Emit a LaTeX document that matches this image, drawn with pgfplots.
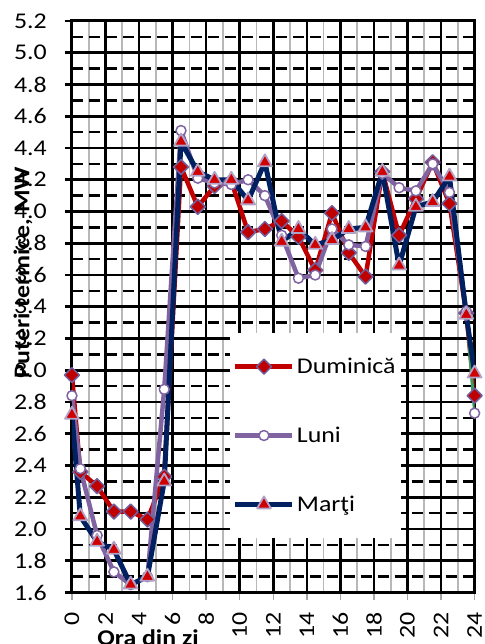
\documentclass[border=0pt]{standalone}
\usepackage{fontspec}
\setmainfont{Carlito}[FakeStretch=1.15]
\usepackage{pgfplots}
\pgfplotsset{compat=1.18}
\definecolor{cDum}{HTML}{C00000}
\definecolor{cLun}{HTML}{8064A2}
\definecolor{cMar}{HTML}{002060}
\definecolor{cEdge}{HTML}{7060A0}
\definecolor{cTri}{HTML}{D00000}
\definecolor{cTriEdge}{HTML}{B3A2C7}
\definecolor{cGreen}{HTML}{3A9A5C}
\newcommand\f{\fontsize{22.5bp}{26bp}\selectfont}
\begin{document}
\begin{tikzpicture}
\begin{axis}[
  scale only axis, width=403bp, height=572bp,
  xmin=0, xmax=24, ymin=1.6, ymax=5.2,
  xtick={0,2,...,24}, minor xtick={1,3,...,23},
  ytick={1.6,1.8,2.0,2.2,2.4,2.6,2.8,3.0,3.2,3.4,3.6,3.8,4.0,4.2,4.4,4.6,4.8,5.0,5.2},
  minor ytick={1.7,1.9,2.1,2.3,2.5,2.7,2.9,3.1,3.3,3.5,3.7,3.9,4.1,4.3,4.5,4.7,4.9,5.1},
  grid=both,
  major grid style={black, line width=2.6bp},
  minor x grid style={black!28, line width=1.6bp},
  minor y grid style={black, line width=2.6bp, dash pattern=on 11bp off 6bp},
  axis line style={black, line width=3bp},
  tick align=outside, tick pos=left,
  major tick length=7bp, minor tick length=0pt,
  xtick style={black!35, line width=1.5bp},
  ytick style={black, line width=2.6bp},
  /pgf/number format/assume math mode=true,
  ticklabel style={font=\f},
  xticklabel style={rotate=90, anchor=east, inner sep=0pt},
  xticklabel shift=13bp,
  yticklabel style={anchor=east, inner sep=0pt, /pgf/number format/.cd, fixed, fixed zerofill, precision=1},
  yticklabel shift=18bp,
  xlabel={\textbf{Ora din zi}},
  xlabel style={font=\f, at={(axis description cs:0.189,-0.0927)}, anchor=base, inner sep=0pt},
  ylabel={\textbf{Puteri termice, MW}},
  ylabel style={font=\f, at={(axis description cs:-0.1216,0.560)}, anchor=center, inner sep=0pt},
  legend style={at={(0.392,0.0953)}, anchor=south west, draw=none, fill=white,
    inner xsep=3bp, inner ysep=23bp, row sep=48bp, font=\f,
    /tikz/every even column/.append style={column sep=5bp}},
  legend cell align=left,
  legend image code/.code={\draw[mark repeat=2, mark phase=2] plot coordinates {(0bp,0bp) (28.5bp,0bp) (57bp,0bp)};},
]
\addplot[color=cDum, line width=4.5bp, line join=round, mark=square*, mark size=5.3bp,
  mark options={rotate=45, fill=cDum, draw=cEdge, line width=1.5bp, solid}]
coordinates {(0,2.97) (0.5,2.36) (1.5,2.27) (2.5,2.11) (3.5,2.11) (4.5,2.06) (5.5,2.33) (6.5,4.28) (7.5,4.03) (8.5,4.16) (9.5,4.19) (10.5,3.87) (11.5,3.89) (12.5,3.94) (13.5,3.84) (14.5,3.63) (15.5,3.99) (16.5,3.74) (17.5,3.59) (18.5,4.25) (19.5,3.85) (20.5,4.08) (21.5,4.31) (22.5,4.05) (23.5,3.36) (24,2.84)};
\addlegendentry{Duminică}
\addplot[color=cLun, line width=4.5bp, line join=round, mark=*, mark size=5bp,
  mark options={fill=white, draw=cLun, line width=1.5bp, solid}]
coordinates {(0,2.84) (0.5,2.38) (1.5,1.96) (2.5,1.73) (3.5,1.65) (4.5,1.70) (5.5,2.88) (6.5,4.51) (7.5,4.21) (8.5,4.18) (9.5,4.17) (10.5,4.20) (11.5,4.10) (12.5,3.85) (13.5,3.58) (14.5,3.60) (15.5,3.89) (16.5,3.79) (17.5,3.78) (18.5,4.24) (19.5,4.15) (20.5,4.13) (21.5,4.30) (22.5,4.12) (23.5,3.37)};
\addlegendentry{Luni}
\addplot[forget plot, color=cGreen, line width=3bp, no marks] coordinates {(23.5,3.37) (24,2.73)};
\addplot[forget plot, only marks, mark=*, mark size=5bp,
  mark options={fill=white, draw=cLun, line width=1.5bp, solid}] coordinates {(24,2.73)};
\addplot[color=cMar, line width=5bp, line join=round, mark=triangle*, mark size=8bp,
  mark options={fill=cTri, draw=cTriEdge, line width=1.8bp, solid}]
coordinates {(0,2.72) (0.5,2.08) (1.5,1.92) (2.5,1.87) (3.5,1.65) (4.5,1.70) (5.5,2.30) (6.5,4.44) (7.5,4.25) (8.5,4.20) (9.5,4.20) (10.5,4.07) (11.5,4.31) (12.5,3.81) (13.5,3.89) (14.5,3.79) (15.5,3.82) (16.5,3.89) (17.5,3.90) (18.5,4.25) (19.5,3.66) (20.5,4.03) (21.5,4.06) (22.5,4.22) (23.5,3.35) (24,2.98)};
\addlegendentry{Marţi}
\end{axis}
\pgfresetboundingbox
\useasboundingbox (-72bp,-51.5bp) rectangle (413bp,593bp);
\end{tikzpicture}
\end{document}
